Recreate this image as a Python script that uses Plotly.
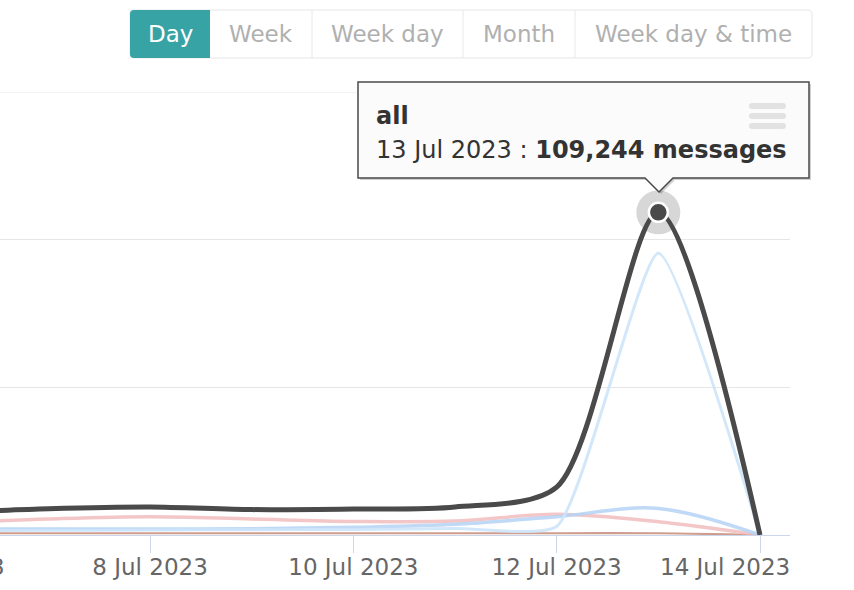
import plotly.graph_objects as go
from datetime import datetime

# ---------------- data ----------------
dates = ["2023-07-06", "2023-07-07", "2023-07-08", "2023-07-09", "2023-07-10",
         "2023-07-11", "2023-07-12", "2023-07-13", "2023-07-14"]
all_msgs = [7600, 8900, 9500, 8600, 8800, 9500, 16200, 109244, 0]
series_a = [1500, 1600, 1700, 1800, 1900, 2200, 2900, 95400, 0]     # light blue (big peak)
series_b = [2000, 2000, 2000, 2100, 2600, 3600, 6200, 9000, 0]      # blue
series_c = [4000, 5400, 6200, 5400, 4600, 4700, 7000, 4500, 0]      # pink
series_d = [600, 600, 600, 600, 600, 600, 600, 600, 0]              # brown
period_buttons = ["Day", "Week", "Week day", "Month", "Week day & time"]
y_ticks = [0, 50000, 100000, 150000]
x_tick_dates = ["2023-07-06", "2023-07-08", "2023-07-10", "2023-07-12", "2023-07-14"]

W, H = 854, 590
ML, MR, MT, MB = 0, 64, 92, 55
PW, PH = W - ML - MR, H - MT - MB


def px(x):
    return (x - ML) / PW


def py(y):
    return (H - MB - y) / PH


x_start = "2023-07-06 12:35"
x_end = "2023-07-14 07:05"


def fmt_date(s):
    d = datetime.strptime(s, "%Y-%m-%d")
    return f"{d.day} {d.strftime('%b %Y')}"


fig = go.Figure()

line_specs = [
    ("brown", series_d, "rgba(200,140,120,0.85)", 2.2, 1.0),
    ("pink", series_c, "rgba(240,185,185,0.8)", 3.5, 1.0),
    ("blue", series_b, "rgba(180,210,245,0.85)", 3.5, 1.0),
    ("light blue", series_a, "rgba(205,228,250,0.9)", 3, 0.5),
    ("all", all_msgs, "#4a4a4a", 5, 0.8),
]
for name, vals, color, width, sm in line_specs:
    fig.add_trace(go.Scatter(
        x=dates, y=vals, name=name, mode="lines",
        line=dict(color=color, width=width, shape="spline", smoothing=sm),
        hoverinfo="skip", showlegend=False))

peak_i = all_msgs.index(max(all_msgs))
fig.add_trace(go.Scatter(x=[dates[peak_i]], y=[all_msgs[peak_i]], mode="markers",
                         marker=dict(size=44, color="rgba(74,74,74,0.22)"),
                         hoverinfo="skip", showlegend=False))
fig.add_trace(go.Scatter(x=[dates[peak_i]], y=[all_msgs[peak_i]], mode="markers",
                         marker=dict(size=19, color="#4a4a4a",
                                     line=dict(color="white", width=2.5)),
                         hoverinfo="skip", showlegend=False))

shapes = []
annotations = []


def rrect(x0, y0, x1, y1, r, left=True, right=True):
    def P(x, y):
        return f"{px(x):.5f},{py(y):.5f}"
    rl = r if left else 0
    rr = r if right else 0
    d = f"M {P(x0 + rl, y0)} L {P(x1 - rr, y0)} "
    d += f"Q {P(x1, y0)} {P(x1, y0 + rr)} " if rr else ""
    d += f"L {P(x1, y1 - rr)} "
    d += f"Q {P(x1, y1)} {P(x1 - rr, y1)} " if rr else ""
    d += f"L {P(x0 + rl, y1)} "
    d += f"Q {P(x0, y1)} {P(x0, y1 - rl)} " if rl else ""
    d += f"L {P(x0, y0 + rl)} "
    d += f"Q {P(x0, y0)} {P(x0 + rl, y0)} " if rl else ""
    return d + "Z"


# top gridline (at the upper edge of the plot area)
shapes.append(dict(type="line", xref="paper", yref="y", x0=0, x1=1,
                   y0=y_ticks[-1], y1=y_ticks[-1],
                   line=dict(color="#e6e6e6", width=1), layer="below"))

# ---- period buttons ----
bx = [130, 210, 312, 463, 575, 812]
by0, by1 = 10, 58
shapes.append(dict(type="path", xref="paper", yref="paper",
                   path=rrect(bx[0], by0, bx[-1], by1, 4),
                   fillcolor="white", line=dict(color="#e6e6e6", width=1), layer="above"))
shapes.append(dict(type="path", xref="paper", yref="paper",
                   path=rrect(bx[0], by0, bx[1], by1, 4, right=False),
                   fillcolor="#38a3a5", line=dict(width=0), layer="above"))
for xd in bx[2:-1]:
    shapes.append(dict(type="line", xref="paper", yref="paper",
                       x0=px(xd), x1=px(xd), y0=py(by0), y1=py(by1),
                       line=dict(color="#e8e8e8", width=1), layer="above"))
for i, lbl in enumerate(period_buttons):
    annotations.append(dict(xref="paper", yref="paper", x=px((bx[i] + bx[i + 1]) / 2),
                            y=py(34), text=lbl, showarrow=False, xanchor="center",
                            yanchor="middle",
                            font=dict(family="DejaVu Sans", size=23,
                                      color="white" if i == 0 else "#b0b0b0")))

# ---- tooltip ----
tx0, ty0, tx1, ty1 = 358, 82, 809, 178
tip_x, tip_y = 659, 192
base_l, base_r = 645, 673


def tooltip_path(dx=0, dy=0):
    pts = [(tx0, ty0), (tx1, ty0), (tx1, ty1), (base_r, ty1), (tip_x, tip_y),
           (base_l, ty1), (tx0, ty1)]
    return "M " + " L ".join(f"{px(x + dx):.5f},{py(y + dy):.5f}" for x, y in pts) + " Z"


shapes.append(dict(type="path", xref="paper", yref="paper", path=tooltip_path(2, 2),
                   fillcolor="rgba(0,0,0,0.18)", line=dict(width=0), layer="above"))
shapes.append(dict(type="path", xref="paper", yref="paper", path=tooltip_path(),
                   fillcolor="#fbfbfb", line=dict(color="#4a4a4a", width=1.5), layer="above"))
for yy in (106, 116, 126):
    shapes.append(dict(type="path", xref="paper", yref="paper",
                       path=rrect(749, yy - 3, 786, yy + 3, 3),
                       fillcolor="#e2e2e2", line=dict(width=0), layer="above"))

annotations.append(dict(xref="paper", yref="paper", x=px(374), y=py(116),
                        text="<b>all</b>", showarrow=False, xanchor="left", yanchor="middle",
                        font=dict(family="DejaVu Sans", size=24, color="#333333")))
annotations.append(dict(xref="paper", yref="paper", x=px(374), y=py(150),
                        text=f"{fmt_date(dates[peak_i])} : <b>{all_msgs[peak_i]:,} messages</b>",
                        showarrow=False, xanchor="left", yanchor="middle",
                        font=dict(family="DejaVu Sans", size=24, color="#333333")))

# ---- x tick labels ----
t0 = datetime.strptime(x_start, "%Y-%m-%d %H:%M")
t1 = datetime.strptime(x_end, "%Y-%m-%d %H:%M")
lab_font = dict(family="DejaVu Sans", size=23, color="#666666")
# first label lies mostly left of the visible area
frac = (datetime.strptime(x_tick_dates[0], "%Y-%m-%d") - t0) / (t1 - t0)
annotations.append(dict(xref="paper", yref="paper", x=frac, y=py(567),
                        text=fmt_date(x_tick_dates[0]), showarrow=False,
                        xanchor="center", yanchor="middle", font=lab_font))
# last label justified to the right edge of the plot area
annotations.append(dict(xref="paper", yref="paper", x=1.0, y=py(567),
                        text=fmt_date(x_tick_dates[-1]), showarrow=False,
                        xanchor="right", yanchor="middle", font=lab_font, xshift=2))
tick_text = [fmt_date(d) for d in x_tick_dates]
tick_text[-1] = ""

fig.update_layout(
    width=W, height=H, margin=dict(l=ML, r=MR, t=MT, b=MB),
    paper_bgcolor="white", plot_bgcolor="white",
    shapes=shapes, annotations=annotations, showlegend=False,
    xaxis=dict(type="date", range=[x_start, x_end], tickvals=x_tick_dates,
               ticktext=tick_text, ticks="outside", ticklen=17, tickcolor="#ccd6eb",
               tickwidth=1, showline=True, linecolor="#ccd6eb", linewidth=1,
               showgrid=False, zeroline=False, ticklabelstandoff=-6,
               tickfont=lab_font),
    yaxis=dict(range=[0, 150000], tickvals=y_ticks, showticklabels=False,
               showgrid=True, gridcolor="#e6e6e6", gridwidth=1, zeroline=False,
               showline=False),
)

fig.write_html("out.html")
